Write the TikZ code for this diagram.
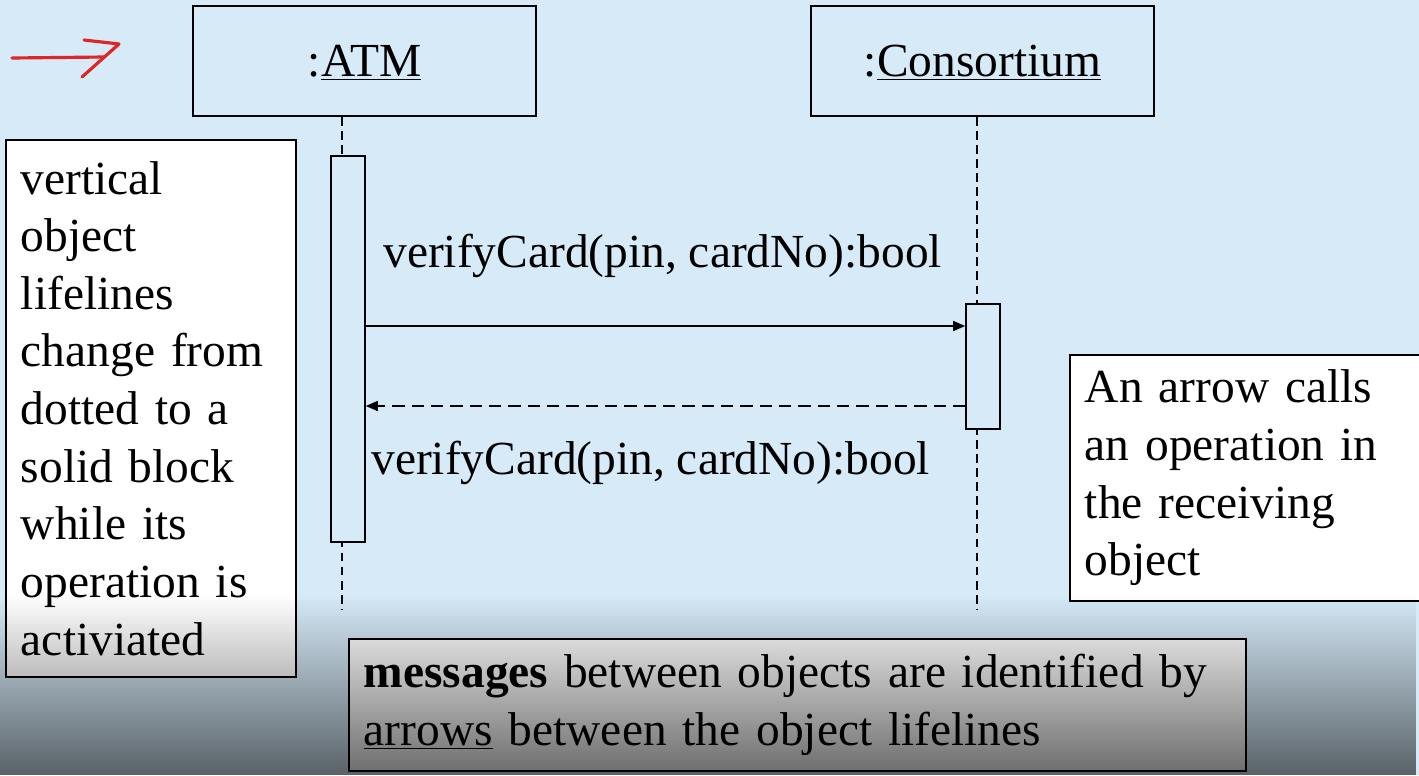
\documentclass[tikz,border=0pt]{standalone}
\usepackage{fontspec}
\setmainfont{Liberation Serif}
\usetikzlibrary{arrows.meta,positioning,fadings}
\definecolor{slidebg}{RGB}{214,234,248}
\definecolor{penred}{RGB}{222,38,38}

\begin{document}
\begin{tikzpicture}[
  x=0.02cm, y=-0.02cm,
  every node/.style={font=\fontsize{27}{32.8}\selectfont},
  objbox/.style={draw, line width=1pt, minimum width=6.86cm, minimum height=2.2cm, text depth=0pt},
  act/.style={draw, fill=slidebg, line width=0.9pt, minimum width=0.68cm, inner sep=0pt},
  note/.style={draw, fill=white, line width=1pt, align=left, anchor=north west, inner xsep=0.3cm, inner ysep=0pt},
  lifeline/.style={dash pattern=on 5pt off 3pt, line width=0.7pt},
  call/.style={-{Triangle[length=2.4mm,width=2mm]}, line width=0.8pt},
  reply/.style={-{Triangle[length=2.4mm,width=2mm]}, line width=0.8pt, dash pattern=on 7pt off 4pt},
  lbl/.style={inner sep=0pt, anchor=west}
]
  \useasboundingbox (0,0) rectangle (1419,775);
  \fill[slidebg] (0,0) rectangle (1419,775);

  % pen mark
  \draw[penred, line width=1.8pt, line cap=round, line join=round] (12,58) -- (104,57);
  \draw[penred, line width=1.8pt, line cap=round, line join=round] (84,40) -- (119,44) -- (82,77);

  % objects
  \node[objbox] (atm) at (364.5,61) {:\underline{ATM}};
  \node[objbox] (cons) at (982.5,61) {:\underline{Consortium}};

  % lifelines
  \coordinate (atmtail) at (342,610);
  \coordinate (constail) at (977,610);
  \draw[lifeline] (atmtail |- atm.south) -- (atmtail);
  \draw[lifeline] (constail |- cons.south) -- (constail);

  \node[act, minimum height=7.72cm] (atmact) at (348,349) {};
  \node[act, minimum height=2.5cm] (conact) at (983,366.5) {};

  % messages
  \coordinate (callY) at (0,326);
  \coordinate (replyY) at (0,406);
  \draw[call] (atmact.east |- callY) -- (conact.west |- callY);
  \draw[reply] (conact.west |- replyY) -- (atmact.east |- replyY);
  \node[lbl] (calllbl) at (383,256) {verifyCard(pin, cardNo):bool};
  \node[lbl] (replylbl) at (371,463) {verifyCard(pin, cardNo):bool};

  % notes
  \node[note, text width=5.2cm, minimum height=10.74cm] (lifenote) at (5,139)
    {vertical\\object\\lifelines\\change from\\dotted to a\\solid block\\while its\\operation is\\activiated};
  \node[note, text width=6.6cm, minimum height=4.92cm] (callnote) at (1069,354)
    {An arrow calls\\an operation in\\the receiving\\object};
  \node[note, text width=17.34cm, minimum height=2.64cm] (msgnote) at (348,638)
    {\textbf{messages} between objects are identified by\\\underline{arrows} between the object lifelines};

  % darker band at the foot
  \fill[black, path fading=north, fill opacity=0.58] (0,595) rectangle (1419,775);
\end{tikzpicture}
\end{document}
